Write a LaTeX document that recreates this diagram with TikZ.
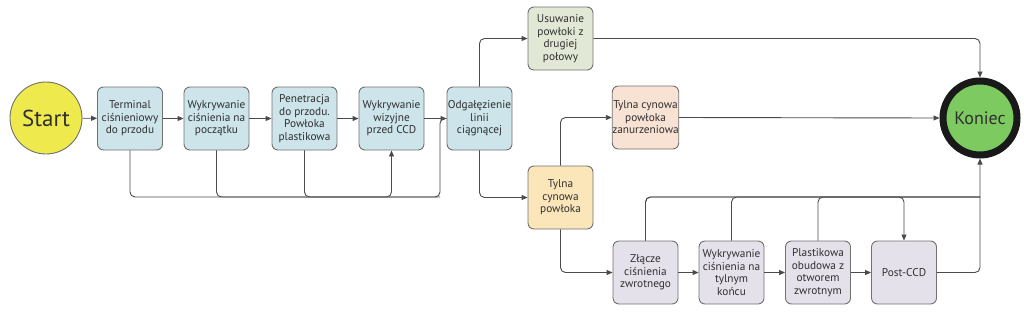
\documentclass[tikz,border=0pt]{standalone}
\usepackage{fontspec}
\setmainfont{PT Sans}
\usetikzlibrary{arrows.meta}
\definecolor{cblue}{HTML}{CCE4EA}
\definecolor{cgreen}{HTML}{E2E8D6}
\definecolor{cpeach}{HTML}{F8E2D4}
\definecolor{cyell}{HTML}{FBE6BA}
\definecolor{clav}{HTML}{E4E1EA}
\definecolor{cstart}{HTML}{EEE94C}
\definecolor{cend}{HTML}{7DCA61}
\definecolor{cline}{HTML}{4A4A4A}
\definecolor{cbord}{HTML}{707070}
\definecolor{ctext}{HTML}{303030}
\begin{document}
\begin{tikzpicture}[x=1pt,y=-1pt,
  box/.style={draw=cbord,line width=0.9pt,rounded corners=6pt,minimum width=65pt,minimum height=63pt,inner sep=0pt,align=center,font=\fontsize{11.3}{12.5}\selectfont,text=ctext},
  conn/.style={draw=cline,line width=0.9pt,rounded corners=5pt},
  arr/.style={conn,-{Triangle[length=6pt,width=5pt]}}]
\useasboundingbox (0,0) rectangle (1024,319);
\node[circle,draw=cbord,line width=0.9pt,fill=cstart,minimum size=72pt,inner sep=0pt,font=\fontsize{23}{26}\selectfont,text=ctext] (st) at (46,118) {Start};
\node[circle,draw=black!90,line width=7pt,fill=cend,minimum size=74pt,inner sep=0pt,font=\fontsize{18}{20}\selectfont,text=ctext] (ko) at (980,118) {Koniec};
\node[box,fill=cblue] (t1) at (130,118.5) {Terminal\\ciśnieniowy\\do przodu};
\node[box,fill=cblue] (t2) at (216.5,118.5) {Wykrywanie\\ciśnienia na\\początku};
\node[box,fill=cblue] (t3) at (304.5,118.5) {Penetracja\\do przodu.\\Powłoka\\plastikowa};
\node[box,fill=cblue] (b4) at (391.5,118.5) {Wykrywanie\\wizyjne\\przed CCD};
\node[box,fill=cblue] (b5) at (479.5,118.5) {Odgałęzienie\\linii\\ciągnącej};
\node[box,fill=cgreen] (us) at (560.5,38.5) {Usuwanie\\powłoki z\\drugiej\\połowy};
\node[box,fill=cpeach] (za) at (645.5,117.5) {Tylna cynowa\\powłoka\\zanurzeniowa};
\node[box,fill=cyell] (ty) at (560.5,197.5) {Tylna\\cynowa\\powłoka};
\node[box,fill=clav] (z1) at (645.5,272.5) {Złącze\\ciśnienia\\zwrotnego};
\node[box,fill=clav] (z2) at (731.5,272.5) {Wykrywanie\\ciśnienia na\\tylnym\\końcu};
\node[box,fill=clav] (z3) at (818,272.5) {Plastikowa\\obudowa z\\otworem\\zwrotnym};
\node[box,fill=clav] (pc) at (904,272.5) {Post-CCD};
\coordinate (fbR) at (440,197);
\coordinate (tf) at (980,197);
% main row
\draw[arr] (st) -- (t1);
\draw[arr] (t1) -- (t2);
\draw[arr] (t2) -- (t3);
\draw[arr] (t3) -- (b4);
\draw[arr] (b4) -- (b5);
% bottom feedback
\draw[conn] (t1.south) |- (fbR) |- (b5.west);
\draw[conn] (t2.south) |- (fbR);
\draw[arr] (t3.south) |- (b4.south |- fbR) -- (b4.south);
% branches
\draw[arr] (b5.north) |- (us.west);
\draw[arr] (b5.south) |- (ty.west);
\draw[arr] (ty.north) |- (za.west);
\draw[arr] (za.east) -- (ko.west);
\draw[arr] (us.east) -| (ko.north);
\draw[arr] (ty.south) |- (z1.west);
\draw[arr] (z1) -- (z2);
\draw[arr] (z2) -- (z3);
\draw[arr] (z3) -- (pc);
\draw[arr] (pc.east) -| (ko.south);
% top feedback
\draw[conn] (z1.north) |- (tf);
\draw[conn] (z2.north) |- (tf);
\draw[conn] (z3.north) |- (tf);
\draw[arr] (z1.north) |- (pc.north |- tf) -- (pc.north);
\end{tikzpicture}
\end{document}
